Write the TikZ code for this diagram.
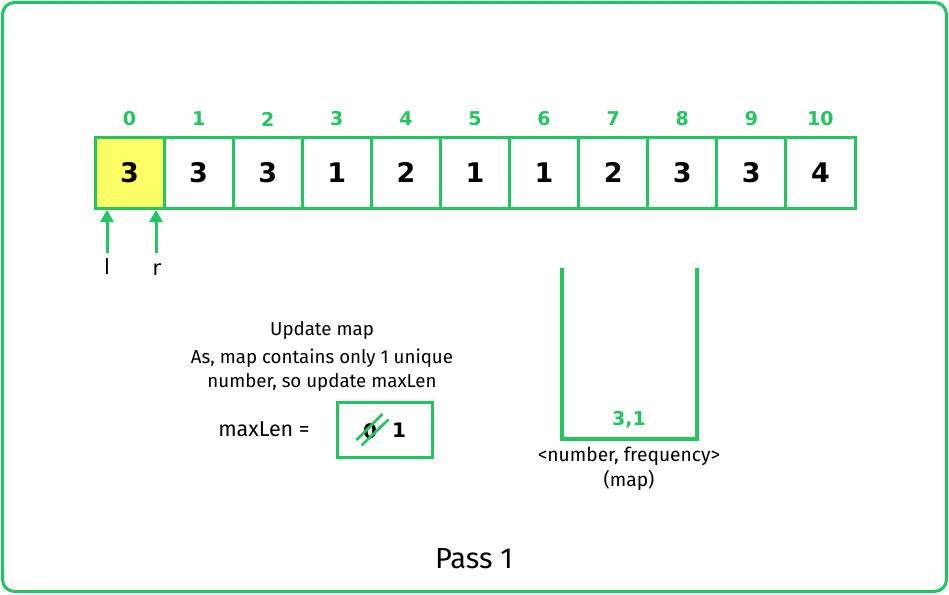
\documentclass[tikz,border=0pt]{standalone}
\usepackage{fontspec}
\setmainfont{Fira Sans}
\newfontfamily\numfont{DejaVu Sans}
\usetikzlibrary{arrows.meta}
\definecolor{gg}{RGB}{34,197,94}
\definecolor{yy}{RGB}{255,255,102}
\tikzset{
  cell/.style={draw=gg, line width=3pt, minimum width=69.1pt, minimum height=71pt, inner sep=0pt, font=\numfont\bfseries\fontsize{27}{30}\selectfont},
  idx/.style={text=gg, font=\numfont\bfseries\fontsize{19}{20}\selectfont},
  txt/.style={font=\fontsize{18.7}{22}\selectfont, inner sep=0pt},
  ptrlabel/.style={inner sep=0pt, font=\numfont\fontsize{21}{24}\selectfont},
  ptr/.style={draw=gg, line width=3pt, -{Triangle[width=13pt,length=12pt]}},
}
\begin{document}
\begin{tikzpicture}[x=1pt,y=-1pt]
\useasboundingbox (0,0) rectangle (949,594);
\draw[gg, line width=3pt, rounded corners=12pt] (2.5,2.5) rectangle (946.5,591.5);
% array
\foreach \v [count=\i from 0] in {3,3,3,1,2,1,1,2,3,3,4} {
  \node[cell] (c\i) at ({95+34.55+69.09*\i},172.5) {\v};
  \node[idx] (i\i) at ({95+34.55+69.09*\i},119) {\i};
}
\node[cell, fill=yy] at (c0) {3};
% pointers
\node[ptrlabel] (l) at (107,267) {l};
\node[ptrlabel] (r) at (157,270) {r};
\coordinate (la) at (107,210);
\coordinate (ra) at (156,210);
\coordinate (ls) at (107,253);
\coordinate (rs) at (156,253);
\draw[ptr] (ls) -- (la);
\draw[ptr] (rs) -- (ra);
% text
\node[txt] (t1) at (322,330) {Update map};
\node[txt] (t2) at (322,358) {As, map contains only 1 unique};
\node[txt] (t3) at (322,382) {number, so update maxLen};
\node[txt, font=\fontsize{21.5}{24}\selectfont] (ml) at (264,429) {maxLen =};
\node[draw=gg, line width=3pt, minimum width=95pt, minimum height=55pt] (box) at (384.5,429.5) {};
\node[font=\numfont\bfseries\fontsize{20}{20}\selectfont] (zero) at (370,431) {0};
\node[font=\numfont\bfseries\fontsize{20}{20}\selectfont] (one) at (399,430) {1};
\draw[gg, line width=2.6pt] (356.5,440) -- (382.5,414);
\draw[gg, line width=2.6pt] (361.5,445.5) -- (388.5,419.5);
% map
\draw[gg, line width=4pt] (562,268) -- (562,439) -- (697,439) -- (697,268);
\node[idx] (kv) at (629,420) {3,1};
\node[txt, font=\fontsize{19.2}{22}\selectfont] (m1) at (629,456) {<number, frequency>};
\node[txt, font=\fontsize{19.2}{22}\selectfont] (m2) at (629,480) {(map)};
% title
\node[txt, font=\fontsize{29}{32}\selectfont] (pass) at (474,559) {Pass 1};
\end{tikzpicture}
\end{document}
